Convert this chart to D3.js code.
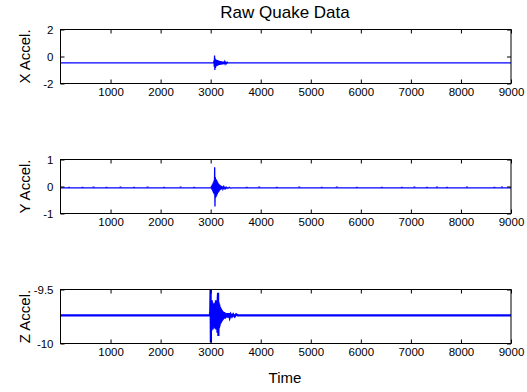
<!DOCTYPE html>
<html>
    <head>
        <meta charset="utf-8">
        <style>
            body {
                margin: 0;
                background: #fff;
                font-family: "Liberation Sans", Arial, Helvetica, sans-serif;
            }
            .tick text {
                font-size: 11.5px;
                fill: #000;
            }
            .tick line {
                stroke: #000;
            }
            .trace {
                fill: none;
                stroke: #0000ff;
                stroke-linejoin: miter;
            }
            .frame {
                fill: none;
                stroke: #000;
                stroke-width: 1;
            }
        </style>
    </head>
    <body>
        <script src="https://d3js.org/d3.v7.min.js"></script>

        <script>
            // tick labels
            const timeTicks = [1000, 2000, 3000, 4000, 5000, 6000, 7000, 8000, 9000];
            const xAccelTicks = [-2, 0, 2];
            const yAccelTicks = [-1, 0, 1];
            const zAccelTicks = [-10, -9.5];

            // X accel trace (time, value)
            const xTime = [0, 3060, 3066, 3072, 3078, 3084, 3090, 3096, 3102, 3108, 3114, 3120, 3126, 3132, 3138,
                3144, 3150, 3156, 3162, 3168, 3174, 3180, 3186, 3192, 3198, 3206, 3214, 3222, 3230, 3240, 3250,
                3262, 3274, 3288, 3302, 3318, 3334, 3345, 9000];
            const xAccel = [-0.47, -0.47, -0.30, -0.75, 0.07, -0.99, -0.15, -0.85, -0.22, -0.74, -0.25, -0.70, -0.28, -0.68, -0.27,
                -0.66, -0.30, -0.64, -0.31, -0.63, -0.32, -0.62, -0.33, -0.61, -0.34, -0.60, -0.35, -0.59, -0.37, -0.58, -0.38,
                -0.56, -0.39, -0.55, -0.41, -0.53, -0.43, -0.47, -0.47];

            // Y accel trace
            const yTime = [0, 3010, 3018, 3026, 3034, 3042, 3050, 3058, 3066, 3074, 3080, 3086, 3092, 3098, 3104,
                3110, 3116, 3122, 3128, 3134, 3140, 3146, 3152, 3158, 3164, 3170, 3178, 3186, 3194, 3202, 3212,
                3222, 3232, 3244, 3256, 3270, 3285, 3300, 3320, 3345, 3370, 3400, 3440, 9000];
            const yAccel = [-0.05, -0.05, 0.02, -0.12, 0.08, -0.18, 0.15, -0.25, 0.22, -0.30, 0.71, -0.74, 0.35, -0.42, 0.28,
                -0.38, 0.25, -0.33, 0.20, -0.28, 0.16, -0.24, 0.12, -0.20, 0.09, -0.17, 0.06, -0.14, 0.04, -0.12, 0.02,
                -0.10, 0.00, -0.09, -0.01, -0.08, -0.02, -0.08, -0.03, -0.07, -0.03, -0.06, -0.05, -0.05];

            // small blips on the Y baseline
            const yBlipTime = [150, 420, 640, 900, 1180, 1450, 1720, 2050, 2380, 2650, 3700, 3950, 4300, 4750, 5200,
                5500, 5900, 6400, 6800, 7050, 7300, 7500, 7700, 8100, 8650, 8800];
            const yBlipAccel = [-0.03, -0.03, -0.02, -0.03, -0.02, -0.03, -0.02, -0.03, -0.02, -0.03, -0.03, -0.02, -0.03, -0.02, -0.03,
                -0.02, -0.03, -0.03, -0.03, -0.02, -0.03, -0.02, -0.03, -0.02, -0.03, -0.02];

            // Z accel trace
            const zTime = [0, 2985, 2992, 2998, 3004, 3010, 3016, 3022, 3028, 3034, 3040, 3046, 3052, 3058, 3064,
                3070, 3076, 3082, 3088, 3094, 3100, 3106, 3112, 3118, 3124, 3130, 3136, 3142, 3148, 3154, 3160,
                3166, 3172, 3178, 3184, 3190, 3196, 3202, 3208, 3214, 3220, 3228, 3236, 3244, 3252, 3262, 3272,
                3284, 3296, 3310, 3325, 3340, 3360, 3380, 3400, 3425, 3450, 3480, 3510, 3540, 9000];
            const zAccel = [-9.74, -9.74, -9.70, -9.49, -9.99, -9.62, -9.88, -9.60, -9.86, -9.62, -9.87, -9.64, -9.85, -9.63, -9.84,
                -9.65, -9.83, -9.64, -9.86, -9.62, -9.84, -9.60, -9.87, -9.63, -9.85, -9.64, -9.90, -9.58, -9.53, -9.93, -9.62,
                -9.86, -9.64, -9.84, -9.66, -9.82, -9.67, -9.81, -9.68, -9.80, -9.69, -9.79, -9.70, -9.78, -9.71, -9.77, -9.71,
                -9.77, -9.72, -9.76, -9.72, -9.76, -9.72, -9.76, -9.73, -9.75, -9.73, -9.75, -9.73, -9.74, -9.74];

            const width = 527;
            const height = 392;
            const plotLeft = 60.5;
            const plotRight = 511;
            const plotHeight = 54;

            const svg = d3.select("body").append("svg")
                .attr("width", width)
                .attr("height", height);

            const xScale = d3.scaleLinear()
                .domain([0, 9000])
                .range([plotLeft, plotRight]);

            const panels = [
                {label: "X Accel.", top: 29.5, domain: [-2, 2], ticks: xAccelTicks, time: xTime, values: xAccel, lw: 1.3},
                {label: "Y Accel.", top: 159.5, domain: [-1, 1], ticks: yAccelTicks, time: yTime, values: yAccel, lw: 1.3},
                {label: "Z Accel.", top: 289.5, domain: [-10, -9.5], ticks: zAccelTicks, time: zTime, values: zAccel, lw: 2.2}
            ];

            svg.append("text")
                .attr("x", 285)
                .attr("y", 18)
                .attr("text-anchor", "middle")
                .style("font-size", "17px")
                .text("Raw Quake Data");

            panels.forEach((p, i) => {
                const bottom = p.top + plotHeight;
                const yScale = d3.scaleLinear()
                    .domain(p.domain)
                    .range([bottom, p.top]);

                const g = svg.append("g");

                g.append("clipPath")
                    .attr("id", "clip" + i)
                  .append("rect")
                    .attr("x", plotLeft)
                    .attr("y", p.top)
                    .attr("width", plotRight - plotLeft)
                    .attr("height", plotHeight);

                const points = p.time.map((t, k) => [t, p.values[k]]);
                const line = d3.line()
                    .x(d => xScale(d[0]))
                    .y(d => yScale(d[1]));

                g.append("path")
                    .attr("class", "trace")
                    .attr("clip-path", "url(#clip" + i + ")")
                    .attr("stroke-width", p.lw)
                    .attr("d", line(points));

                if (i === 1) {
                    g.selectAll(".blip")
                        .data(yBlipTime.map((t, k) => [t, yBlipAccel[k]]))
                        .join("line")
                        .attr("class", "blip")
                        .attr("x1", d => xScale(d[0]))
                        .attr("x2", d => xScale(d[0]) + 2)
                        .attr("y1", d => yScale(d[1]))
                        .attr("y2", d => yScale(d[1]))
                        .attr("stroke", "#0000ff")
                        .attr("stroke-width", 1);
                }

                const xAxis = d3.axisBottom(xScale)
                    .tickValues(timeTicks)
                    .tickSizeInner(-4)
                    .tickSizeOuter(0)
                    .tickPadding(4)
                    .tickFormat(d => String(d));

                const xAxisTop = d3.axisTop(xScale)
                    .tickValues(timeTicks)
                    .tickSizeInner(-4)
                    .tickSizeOuter(0)
                    .tickFormat("");

                const yAxis = d3.axisLeft(yScale)
                    .tickValues(p.ticks)
                    .tickSizeInner(-4)
                    .tickSizeOuter(0)
                    .tickPadding(7)
                    .tickFormat(d => String(d));

                const yAxisRight = d3.axisRight(yScale)
                    .tickValues(p.ticks)
                    .tickSizeInner(-4)
                    .tickSizeOuter(0)
                    .tickFormat("");

                g.append("g")
                    .attr("transform", "translate(0," + bottom + ")")
                    .call(xAxis)
                    .call(a => a.select(".domain").remove());

                g.append("g")
                    .attr("transform", "translate(0," + p.top + ")")
                    .call(xAxisTop)
                    .call(a => a.select(".domain").remove());

                g.append("g")
                    .attr("transform", "translate(" + plotLeft + ",0)")
                    .call(yAxis)
                    .call(a => a.select(".domain").remove());

                g.append("g")
                    .attr("transform", "translate(" + plotRight + ",0)")
                    .call(yAxisRight)
                    .call(a => a.select(".domain").remove());

                g.append("rect")
                    .attr("class", "frame")
                    .attr("x", plotLeft)
                    .attr("y", p.top)
                    .attr("width", plotRight - plotLeft)
                    .attr("height", plotHeight);

                g.append("text")
                    .attr("transform", "translate(30," + (p.top + plotHeight / 2) + ") rotate(-90)")
                    .attr("text-anchor", "middle")
                    .style("font-size", "15px")
                    .text(p.label);
            });

            svg.append("text")
                .attr("x", 285)
                .attr("y", 383)
                .attr("text-anchor", "middle")
                .style("font-size", "15px")
                .text("Time");
        </script>
    </body>
</html>
